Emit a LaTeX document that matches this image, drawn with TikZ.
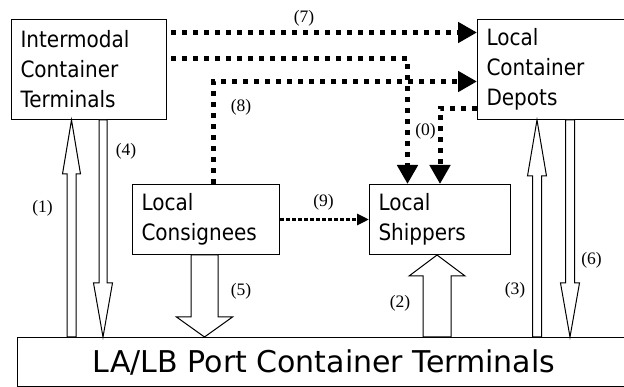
\documentclass[tikz,border=0pt]{standalone}
\usepackage{fontspec}
\setmainfont{DejaVu Sans}
\newfontfamily\boxfont{DejaVu Sans}[FakeStretch=0.89]
\newfontfamily\numfont{Liberation Serif}
\usepackage{tikz}
\usetikzlibrary{positioning, arrows.meta, calc}

\tikzstyle{box}=[%
      rectangle, draw=black, line width=1pt, fill=none,
      align=left, inner xsep=9pt, inner ysep=0pt, minimum height=100pt,
      font=\boxfont\fontsize{22.5}{30}\selectfont
]
\tikzstyle{port}=[%
      rectangle, draw=black, line width=1pt, fill=none, anchor=north west,
      minimum width=613pt, minimum height=49pt, inner sep=0pt,
      font=\fontsize{30}{30}\selectfont
]
\tikzstyle{num}=[%
      inner sep=0pt, font=\numfont\fontsize{17.5}{17.5}\selectfont
]
\tikzstyle{flow}=[%
      line width=5pt, dash pattern=on 5pt off 6pt,
      -{Triangle[length=19pt,width=20pt]}
]
\tikzstyle{flowthin}=[%
      line width=3pt, dash pattern=on 3.5pt off 2.5pt,
      -{Triangle[length=12pt,width=11pt]}
]
\tikzset{fat/.style n args={3}{%
      draw=black, fill=white, line width=1pt, line join=miter,
      to path={
        ($(\tikztostart)!#1!90:(\tikztotarget)$)
        -- ($($(\tikztotarget)!#3!(\tikztostart)$)!#1!90:(\tikztotarget)$)
        -- ($($(\tikztotarget)!#3!(\tikztostart)$)!#2!90:(\tikztotarget)$)
        -- (\tikztotarget)
        -- ($($(\tikztotarget)!#3!(\tikztostart)$)!#2!-90:(\tikztotarget)$)
        -- ($($(\tikztotarget)!#3!(\tikztostart)$)!#1!-90:(\tikztotarget)$)
        -- ($(\tikztostart)!#1!-90:(\tikztotarget)$) -- cycle
      }}}

\begin{document}
\begin{tikzpicture}[x=1pt, y=-1pt]
    \useasboundingbox (0,0) rectangle (624,387);

    \node[box, anchor=north west, text width=137pt] (ict) at (11,19)
        {Intermodal\\Container\\Terminals};
    \node[box, text width=135pt, right=310pt of ict] (lcd)
        {Local\\Container\\Depots};
    \node[box, anchor=north west, text width=129pt, minimum height=70pt] (lc) at (132,184)
        {Local\\Consignees};
    \node[box, text width=123pt, minimum height=70pt, right=89pt of lc] (ls)
        {Local\\Shippers};
    \node[port] (lb) at (17,337) {LA/LB Port Container Terminals};

    % hollow flows
    \draw[fat={4.5pt}{9pt}{54pt}] (71.5,0 |- lb.north) to (71.5,0 |- ict.south);
    \draw[fat={4pt}{9.5pt}{54pt}] (103,0 |- ict.south) to (103,0 |- lb.north);
    \draw[fat={13.5pt}{28pt}{20pt}] (204.5,0 |- lc.south) to (204.5,0 |- lb.north);
    \draw[fat={14pt}{28pt}{21pt}] (437,0 |- lb.north) to (437,0 |- ls.south);
    \draw[fat={4.5pt}{9.5pt}{56pt}] (537,0 |- lb.north) to (537,0 |- lcd.south);
    \draw[fat={4.5pt}{9.5pt}{54pt}] (570,0 |- lcd.south) to (570,0 |- lb.north);

    % dotted flows
    \draw[flow] ([xshift=4pt,yshift=37pt]ict.east) -- ([yshift=37pt]lcd.west);
    \draw[flow] ([xshift=4pt,yshift=11pt]ict.east) -| ([xshift=-32.5pt]ls.north);
    \draw[flow] ([xshift=7.5pt]lc.north) |- ([yshift=-12pt]lcd.west);
    \draw[flow] ([yshift=-39pt]lcd.west) -| (ls.north);
    \draw[flowthin] (lc.east) -- (ls.west);

    \node[num] (n0) at (425.5,131.5) {(0)};
    \node[num] (n1) at (42.5,208) {(1)};
    \node[num] (n2) at (400,303.5) {(2)};
    \node[num] (n3) at (515,290) {(3)};
    \node[num] (n4) at (126,151) {(4)};
    \node[num] (n5) at (241,291) {(5)};
    \node[num] (n6) at (591.5,260) {(6)};
    \node[num] (n7) at (304,18) {(7)};
    \node[num] (n8) at (241,107) {(8)};
    \node[num] (n9) at (323.5,202) {(9)};
\end{tikzpicture}
\end{document}
